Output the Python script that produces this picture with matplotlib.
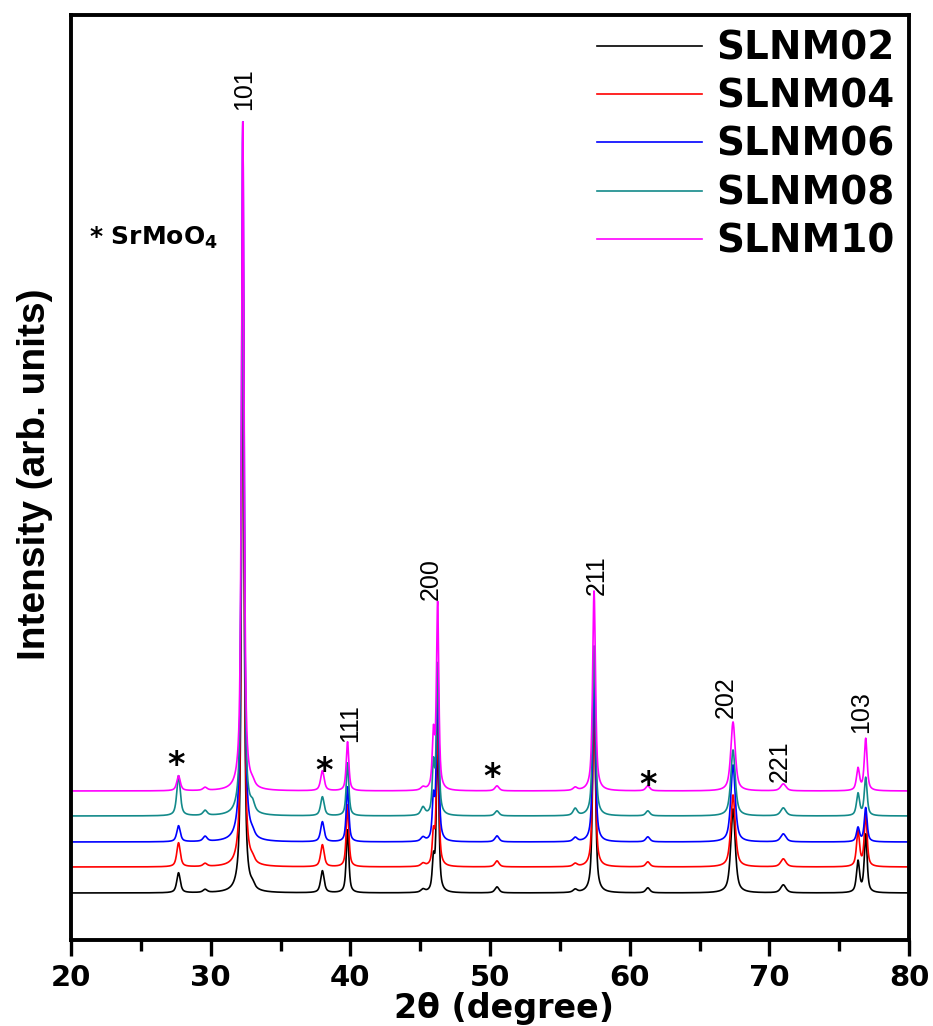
import numpy as np
import matplotlib
matplotlib.use("Agg")
import matplotlib.pyplot as plt
from matplotlib import font_manager
from matplotlib.ticker import MultipleLocator

# ---------------- data ----------------
series_names = ["SLNM02", "SLNM04", "SLNM06", "SLNM08", "SLNM10"]
series_colors = ["#000000", "#ff0000", "#0000ff", "#138a8a", "#ff00ff"]
baselines = [47, 73, 98, 124, 149]          # vertical offset of each pattern (arb. units)

# peak positions (2theta, degree) and FWHM
peak_pos  = [27.7, 29.6, 32.3, 33.0, 38.0, 39.8, 45.2, 45.95, 46.25, 50.5, 56.1, 57.45, 61.3, 67.4, 71.0, 76.35, 76.9]
peak_fwhm = [0.3, 0.35, 0.22, 0.35, 0.3, 0.22, 0.35, 0.2, 0.2, 0.35, 0.35, 0.24, 0.35, 0.38, 0.45, 0.26, 0.24]

# peak heights above baseline for each sample
h_SLNM02 = [20, 3, 593, 4, 22, 63, 3, 30, 160, 6, 3, 200, 5, 84, 8, 31, 58]
h_SLNM04 = [24, 3, 607, 4, 22, 62, 3, 30, 150, 6, 3, 170, 5, 72, 8, 35, 52]
h_SLNM06 = [16, 5, 720, 4, 20, 55, 4, 40, 160, 6, 4, 170, 5, 77, 8, 14, 34]
h_SLNM08 = [40, 5, 586, 8, 19, 53, 8, 48, 150, 5, 7, 170, 5, 66, 8, 22, 38]
h_SLNM10 = [15, 3, 669, 4, 20, 49, 3, 53, 186, 5, 3, 200, 5, 69, 7, 22, 52]
heights = [h_SLNM02, h_SLNM04, h_SLNM06, h_SLNM08, h_SLNM10]

# Miller-index labels: text, x (degree), y (bottom of text)
hkl_text = ["101", "111", "200", "211", "202", "221", "103"]
hkl_x    = [32.4, 40.0, 45.75, 57.65, 66.85, 70.75, 76.6]
hkl_y    = [830, 198, 340, 345, 222, 158, 207]

# SrMoO4 markers
star_x = [27.5, 38.15, 50.15, 61.3]
star_y = [174, 168, 162, 154]

# ---------------- build curves ----------------
two_theta = np.arange(20.0, 80.0001, 0.01)

def pattern(hs):
    y = np.zeros_like(two_theta)
    for p, w, h in zip(peak_pos, peak_fwhm, hs):
        g = np.exp(-4 * np.log(2) * ((two_theta - p) / w) ** 2)
        l = 1.0 / (1.0 + 4 * ((two_theta - p) / w) ** 2)
        y += h * (0.3 * g + 0.7 * l)
    return y

# ---------------- fonts ----------------
names = {f.name for f in font_manager.fontManager.ttflist}
arial = "Liberation Sans" if "Liberation Sans" in names else "DejaVu Sans"
wide = "DejaVu Sans"
plt.rcParams["font.family"] = [wide]
plt.rcParams["mathtext.fontset"] = "dejavusans"

# ---------------- figure ----------------
fig = plt.figure(figsize=(9.33, 10.26), dpi=100)
ax = fig.add_axes([71 / 933, 86 / 1026, 838 / 933, 925 / 1026])

for name, col, base, hs in zip(series_names, series_colors, baselines, heights):
    ax.plot(two_theta, base + pattern(hs), color=col, lw=1.2, label=name)

ax.set_xlim(20, 80)
ax.set_ylim(0, 925)
ax.set_yticks([])
ax.xaxis.set_major_locator(MultipleLocator(10))
ax.xaxis.set_minor_locator(MultipleLocator(5))
ax.tick_params(axis="x", which="major", direction="out", length=11.5, width=2.4, pad=6)
ax.tick_params(axis="x", which="minor", direction="out", length=8, width=2.4)
for sp in ax.spines.values():
    sp.set_linewidth(2.8)
for lab in ax.get_xticklabels():
    lab.set_fontfamily(wide)
    lab.set_fontweight("bold")
    lab.set_fontsize(21)

ax.set_xlabel("2θ (degree)", fontsize=24, fontweight="bold", family=wide)
ax.xaxis.set_label_coords((504 - 71) / 838, -0.056)
ax.set_ylabel("Intensity (arb. units)", fontsize=28, fontweight="bold", family=arial)
ax.yaxis.set_label_coords(-0.022, 0.503)

for t, x, y in zip(hkl_text, hkl_x, hkl_y):
    ax.text(x, y, t, rotation=90, ha="center", va="bottom", fontsize=18, family=arial)

for x, y in zip(star_x, star_y):
    ax.text(x, y, "*", ha="center", va="center", fontsize=24, fontweight="bold", family=wide)

ax.text(21.3, 689, r"* SrMoO$_\mathbf{4}$", fontsize=18, fontweight="bold", family=wide,
        va="bottom", ha="left")

leg = ax.legend(loc="upper right", bbox_to_anchor=(1.0, 1.0), frameon=False,
                prop={"family": wide, "weight": "bold", "size": 28},
                handlelength=2.7, handletextpad=0.35, labelspacing=0.26,
                borderaxespad=0.0, borderpad=0.38)
for h in leg.get_lines():
    h.set_linewidth(1.2)

fig.savefig("out.png", dpi=100)
